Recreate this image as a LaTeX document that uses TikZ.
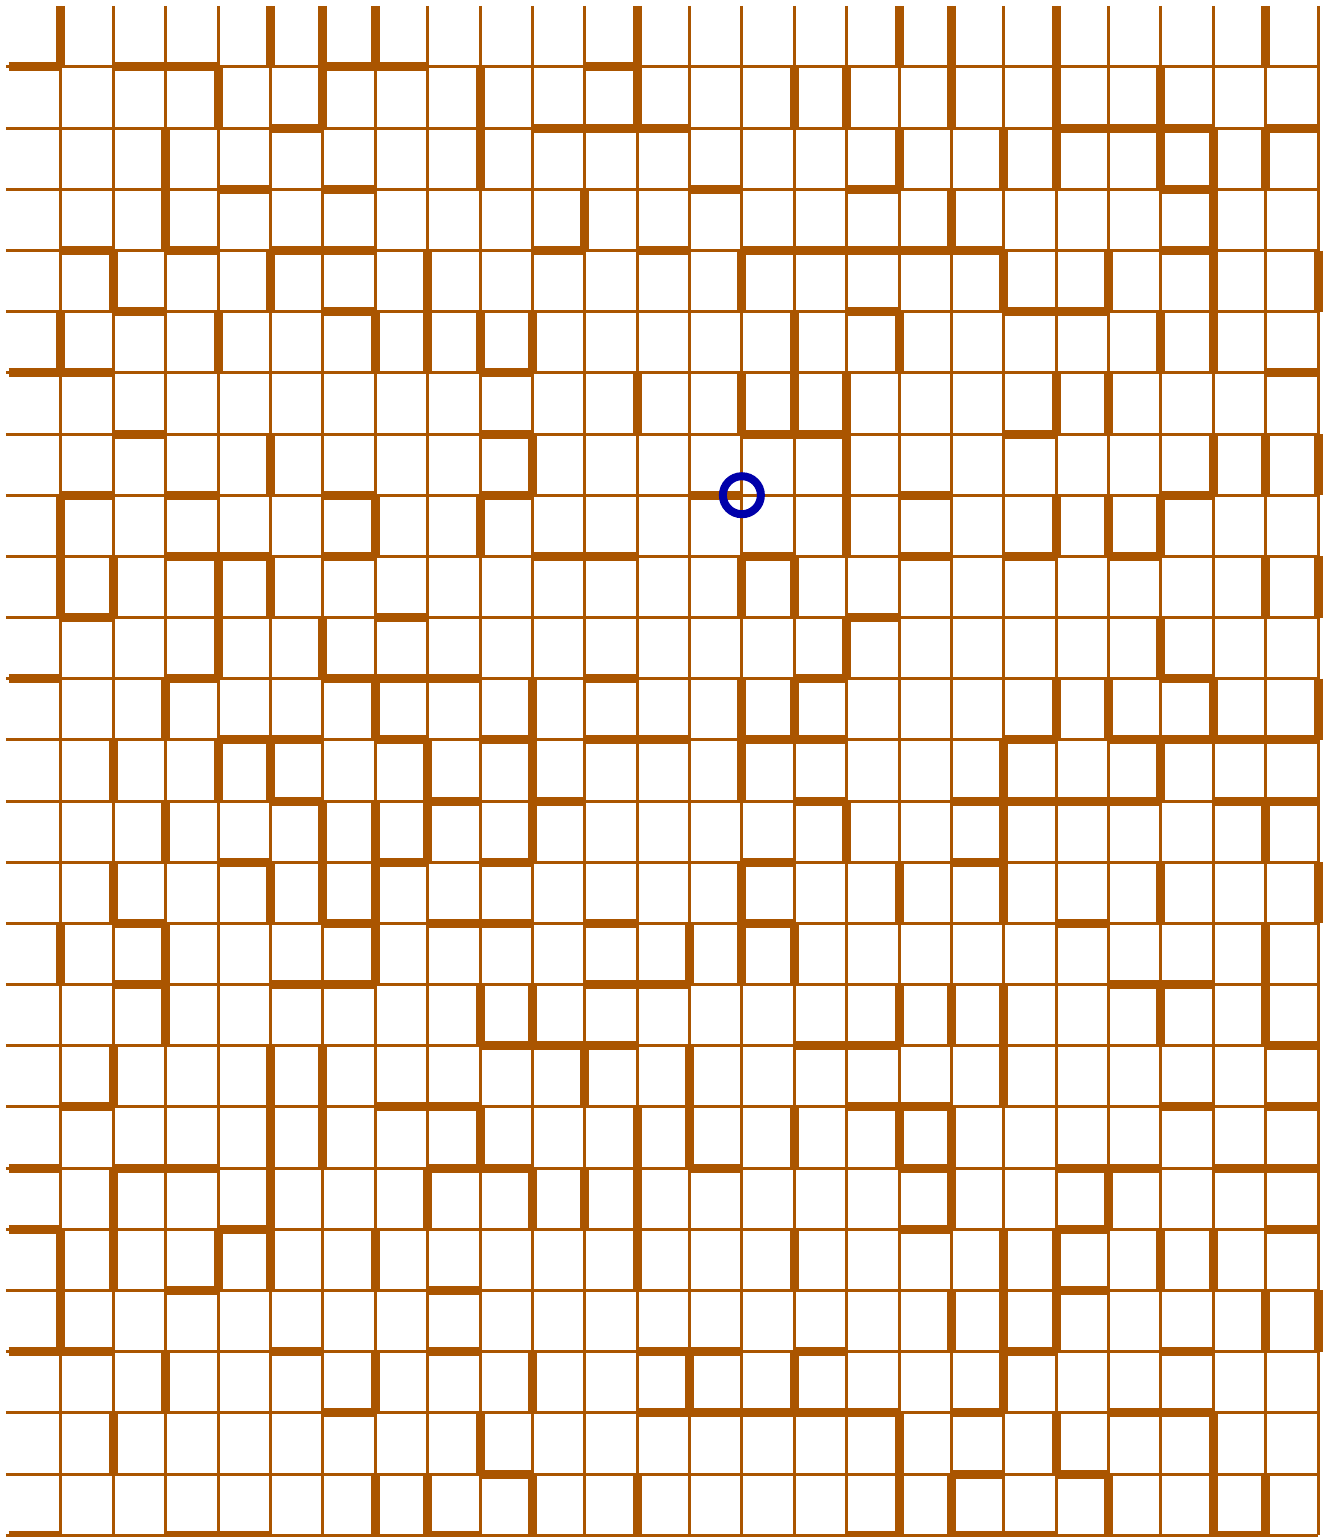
\documentclass[tikz,border=0pt]{standalone}
\usepackage{xcolor}
\usepackage{tikz}
\definecolor{mazebrown}{RGB}{170,85,0}
\definecolor{markblue}{RGB}{0,0,170}

\begin{document}
\begin{tikzpicture}[
    x=26.1875pt, y=-30.585pt,
    cellline/.style  = {draw=mazebrown, line width=1.5pt},
    wall/.style      = {draw=mazebrown, line width=4.5pt},
    startmark/.style = {circle, draw=markblue, line width=4pt,
                        minimum size=19pt, inner sep=0pt},
]
\useasboundingbox (-0.164,-0.095) rectangle (25.19,25.03);

%--- thin cell grid (no left and top border)
\foreach \i in {1,...,25} {\draw[cellline] (\i,0) -- (\i,25);}
\foreach \j in {1,...,25} {\draw[cellline] (-0.05,\j) -- (25,\j);}

%--- thick walls on vertical lines: row / line indices
\foreach \row/\vlist in {
    0/{1,5,6,7,12,17,18,20,24},
    1/{4,6,9,12,15,16,18,20,22},
    2/{3,9,17,19,20,22,23,24},
    3/{3,11,18,23},
    4/{2,5,8,14,19,21,23,25},
    5/{1,4,7,8,9,10,15,17,22,23},
    6/{12,14,15,16,20,21},
    7/{5,10,16,23,24,25},
    8/{1,7,9,16,20,21,22},
    9/{1,2,4,5,14,15,24,25},
    10/{4,6,16,22},
    11/{3,7,10,14,15,20,21,23,25},
    12/{2,4,5,8,10,14,19,22},
    13/{3,6,7,8,10,16,19,24},
    14/{2,5,6,7,14,17,19,22,25},
    15/{1,3,7,13,14,15,24},
    16/{3,9,10,17,18,19,22,24},
    17/{2,5,6,11,13,19},
    18/{5,6,9,12,13,15,17,18},
    19/{2,5,8,10,11,12,18,21},
    20/{1,2,4,5,7,12,15,19,20,22,23},
    21/{1,18,19,20,24,25},
    22/{3,7,10,13,15,19},
    23/{2,9,17,20,23},
    24/{7,8,10,12,17,18,21,23,24}} {
  \foreach \vx in \vlist {\draw[wall] (\vx,\row) -- (\vx,\row+1);}
}

%--- thick walls on horizontal lines: line / column indices
\foreach \hy/\hlist in {
    1/{0,2,3,6,7,11},
    2/{5,10,11,12,20,21,22,24},
    3/{4,6,13,16,22},
    4/{1,3,5,6,10,12,14,15,16,17,18,22},
    5/{2,6,16,19,20},
    6/{0,1,9,24},
    7/{2,9,14,15,19},
    8/{1,3,6,9,13,17,22},
    9/{3,4,6,10,11,14,17,19,21},
    10/{1,7,16},
    11/{0,3,6,7,8,11,15,22},
    12/{4,5,7,9,11,12,14,15,19,21,22,23,24},
    13/{5,8,10,15,18,19,20,21,23,24},
    14/{4,7,9,14,18},
    15/{2,6,8,9,11,14,20},
    16/{2,5,6,11,12,21,22},
    17/{9,10,11,15,16,24},
    18/{1,7,8,16,17,22,24},
    19/{0,2,3,8,9,13,17,20,21,23,24},
    20/{0,4,17,20,24},
    21/{3,8,20},
    22/{0,1,5,8,12,13,15,19,22},
    23/{6,12,13,14,15,16,18,21,22},
    24/{9,18,20},
    25/{0,3,4,8,16,18,19,23}} {
  \foreach \hx in \hlist {\draw[wall] (\hx,\hy) -- (\hx+1,\hy);}
}

%--- start marker
\node[startmark] (start) at (14,8) {};

\end{tikzpicture}
\end{document}
